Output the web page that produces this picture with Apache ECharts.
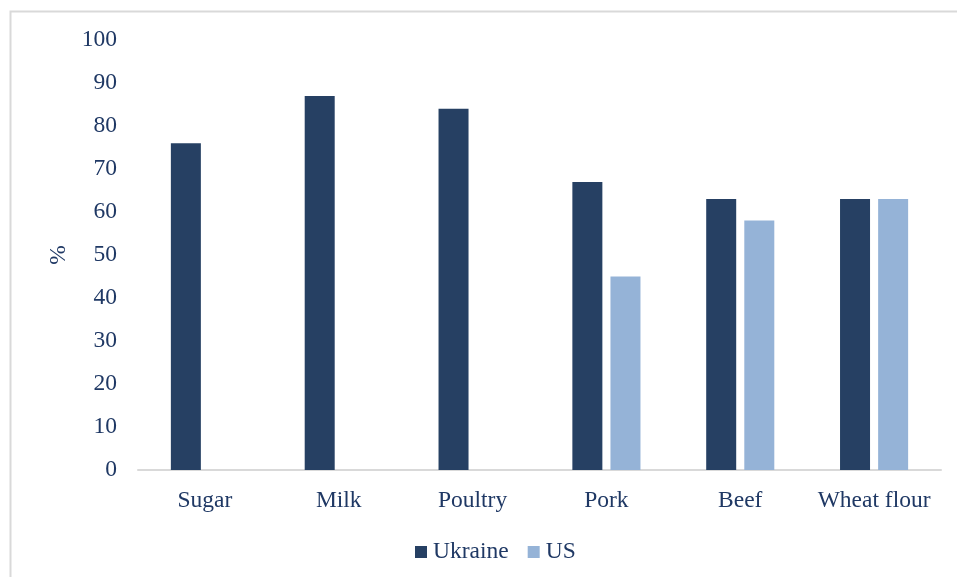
<!DOCTYPE html>
<html>
<head>
<meta charset="utf-8">
<script src="https://cdn.jsdelivr.net/npm/echarts@6/dist/echarts.min.js"></script>
<style>
  html, body { margin: 0; padding: 0; background: #ffffff; }
  #chart { width: 957px; height: 577px; }
</style>
</head>
<body>
<div id="chart"></div>
<script>
// Share of products (%) by category, Ukraine vs US
const categories = ['Sugar', 'Milk', 'Poultry', 'Pork', 'Beef', 'Wheat flour'];
const ukraine = [76, 87, 84, 67, 63, 63];
const us = [null, null, null, 45, 58, 63];
const seriesNames = ['Ukraine', 'US'];

const textColor = '#1f3864';
const fontFamily = '"Liberation Serif", "Times New Roman", serif';
const fontSize = 23.5;

const chart = echarts.init(document.getElementById('chart'), null, { renderer: 'canvas' });

chart.setOption({
  backgroundColor: '#ffffff',
  animation: false,
  textStyle: { fontFamily: fontFamily, color: textColor },
  graphic: [{
    type: 'rect',
    shape: { x: 10.5, y: 11.5, width: 1000, height: 1000 },
    style: { fill: 'none', stroke: '#d9d9d9', lineWidth: 2 },
    silent: true
  }],
  grid: { left: 138, right: 16, top: 40, bottom: 107, containLabel: false },
  legend: {
    top: 535,
    left: 410,
    itemWidth: 12,
    itemHeight: 12,
    itemGap: 19,
    icon: 'rect',
    textStyle: { fontFamily: fontFamily, fontSize: fontSize, color: textColor, padding: [0, 0, 0, 1] },
    data: seriesNames
  },
  xAxis: {
    type: 'category',
    data: categories,
    axisLine: { show: true, lineStyle: { color: '#d9d9d9', width: 2 } },
    axisTick: { show: false },
    axisLabel: { fontFamily: fontFamily, fontSize: fontSize, color: textColor, margin: 19, interval: 0 }
  },
  yAxis: {
    type: 'value',
    min: 0,
    max: 100,
    interval: 10,
    name: '%',
    nameLocation: 'middle',
    nameGap: 61,
    nameRotate: 90,
    nameTextStyle: { fontFamily: fontFamily, fontSize: fontSize, color: textColor },
    axisLine: { show: false },
    axisTick: { show: false },
    splitLine: { show: false },
    axisLabel: { fontFamily: fontFamily, fontSize: fontSize, color: textColor, margin: 21 }
  },
  series: [
    {
      name: seriesNames[0],
      type: 'bar',
      data: ukraine,
      barWidth: 30,
      barGap: '27%',
      itemStyle: { color: '#264063' }
    },
    {
      name: seriesNames[1],
      type: 'bar',
      data: us,
      barWidth: 30,
      itemStyle: { color: '#95b3d7' }
    }
  ]
});
</script>
</body>
</html>
